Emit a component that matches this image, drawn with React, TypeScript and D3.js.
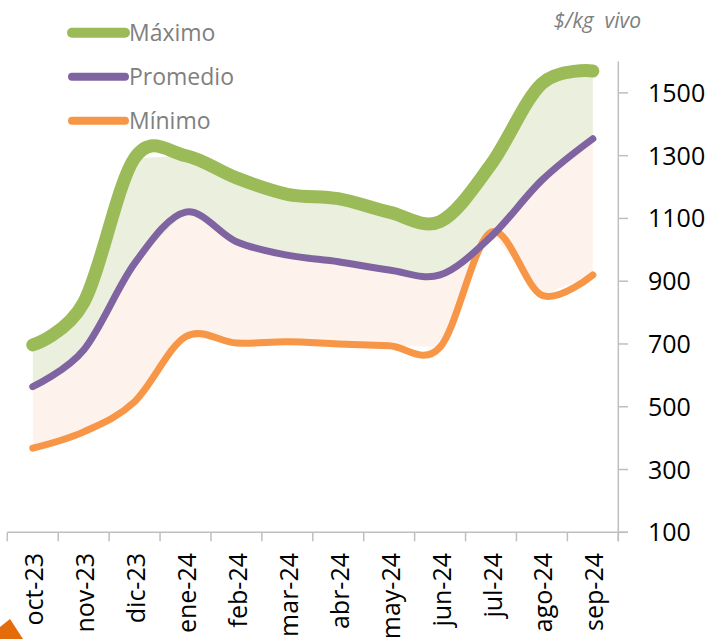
import { useEffect, useRef } from "react"
import * as d3 from "d3"

const months = ["oct-23", "nov-23", "dic-23", "ene-24", "feb-24", "mar-24", "abr-24", "may-24", "jun-24", "jul-24", "ago-24", "sep-24"]
const maximo = [697, 832, 1292, 1300, 1229, 1177, 1163, 1120, 1090, 1272, 1530, 1570]
const promedio = [564, 681, 957, 1120, 1026, 983, 962, 936, 920, 1042, 1222, 1354]
const minimo = [368, 420, 516, 723, 703, 707, 700, 694, 690, 1056, 855, 920]
const yTicks = [100, 300, 500, 700, 900, 1100, 1300, 1500]

const series = [
  { name: "Máximo", values: maximo, color: "#9BBB59", width: 13, legendWidth: 10 },
  { name: "Promedio", values: promedio, color: "#8064A2", width: 7, legendWidth: 8 },
  { name: "Mínimo", values: minimo, color: "#F79646", width: 7, legendWidth: 8 },
]

export default function App() {
  const svgRef = useRef<SVGSVGElement>(null)

  useEffect(() => {
    if (!svgRef.current) return
    const svg = d3.select(svgRef.current)
    svg.selectAll("*").remove()

    const font = "'Open Sans', sans-serif"

    const x = d3.scaleBand().domain(months).range([7.3, 618.3])
    const y = d3.scaleLinear().domain([100, 1600]).range([532.3, 61.5])
    const cx = (i: number) => (x(months[i]) || 0) + x.bandwidth() / 2

    // Fills (straight segments, like the source chart)
    const band = d3
      .area<number>()
      .x((_, i) => cx(i))
      .curve(d3.curveLinear)

    svg
      .append("path")
      .attr("d", band.y0((_, i) => y(promedio[i])).y1((_, i) => y(maximo[i]))(maximo))
      .attr("fill", "#EBF0DE")

    svg
      .append("path")
      .attr("d", band.y0((_, i) => y(minimo[i])).y1((_, i) => y(promedio[i]))(minimo))
      .attr("fill", "#FDF3EC")

    // Axes
    const axisColor = "#BFBFBF"
    svg
      .append("line")
      .attr("x1", 7.3)
      .attr("x2", 628)
      .attr("y1", y(100))
      .attr("y2", y(100))
      .attr("stroke", axisColor)
      .attr("stroke-width", 1.5)

    const edges = months.map((m) => x(m) || 0).concat([618.3])
    svg
      .selectAll(".xtick")
      .data(edges)
      .enter()
      .append("line")
      .attr("x1", (d) => d)
      .attr("x2", (d) => d)
      .attr("y1", y(100))
      .attr("y2", y(100) + 9)
      .attr("stroke", axisColor)
      .attr("stroke-width", 1.5)

    svg
      .append("line")
      .attr("x1", 618.3)
      .attr("x2", 618.3)
      .attr("y1", y(1600))
      .attr("y2", y(100) + 9)
      .attr("stroke", axisColor)
      .attr("stroke-width", 1.5)

    svg
      .selectAll(".ytick")
      .data(yTicks)
      .enter()
      .append("line")
      .attr("x1", 618.3)
      .attr("x2", 628)
      .attr("y1", (d) => y(d))
      .attr("y2", (d) => y(d))
      .attr("stroke", axisColor)
      .attr("stroke-width", 1.5)

    svg
      .selectAll(".ylabel")
      .data(yTicks)
      .enter()
      .append("text")
      .attr("x", 648)
      .attr("y", (d) => y(d))
      .attr("dy", "0.36em")
      .attr("font-family", font)
      .attr("font-size", 25)
      .attr("fill", "#000")
      .text((d) => d)

    svg
      .selectAll(".xlabel")
      .data(months)
      .enter()
      .append("text")
      .attr("transform", (d) => `translate(${(x(d) || 0) + x.bandwidth() / 2 + 10.5},553) rotate(-90)`)
      .attr("text-anchor", "end")
      .attr("font-family", font)
      .attr("font-size", 25)
      .attr("fill", "#000")
      .text((d) => d)

    // Lines
    const line = d3
      .line<number>()
      .x((_, i) => cx(i))
      .y((d) => y(d))
      .curve(d3.curveCardinal.tension(0))

    series
      .slice()
      .reverse()
      .forEach((s) => {
        svg
          .append("path")
          .attr("d", line(s.values))
          .attr("fill", "none")
          .attr("stroke", s.color)
          .attr("stroke-width", s.width)
          .attr("stroke-linecap", "round")
          .attr("stroke-linejoin", "round")
      })

    // Legend
    series.forEach((s, i) => {
      const ly = 32.7 + i * 44
      svg
        .append("line")
        .attr("x1", 72)
        .attr("x2", 125)
        .attr("y1", ly)
        .attr("y2", ly)
        .attr("stroke", s.color)
        .attr("stroke-width", s.legendWidth)
        .attr("stroke-linecap", "round")
      svg
        .append("text")
        .attr("x", 129)
        .attr("y", ly)
        .attr("dy", "0.36em")
        .attr("font-family", font)
        .attr("font-size", 23)
        .attr("fill", "#7F7F7F")
        .text(s.name)
    })

    svg
      .append("text")
      .attr("x", 641)
      .attr("y", 28)
      .attr("text-anchor", "end")
      .attr("font-family", font)
      .attr("font-size", 21)
      .attr("font-style", "italic")
      .attr("fill", "#7F7F7F")
      .style("white-space", "pre")
      .text("$/kg  vivo")

    // orange corner mark
    svg
      .append("path")
      .attr("d", "M0,627 L10,619 L23,639 L0,639 Z")
      .attr("fill", "#E46C0A")
  }, [])

  return (
    <svg
      ref={svgRef}
      width={717}
      height={639}
      style={{ position: "absolute", left: 0, top: 0, background: "#fff" }}
    />
  )
}
